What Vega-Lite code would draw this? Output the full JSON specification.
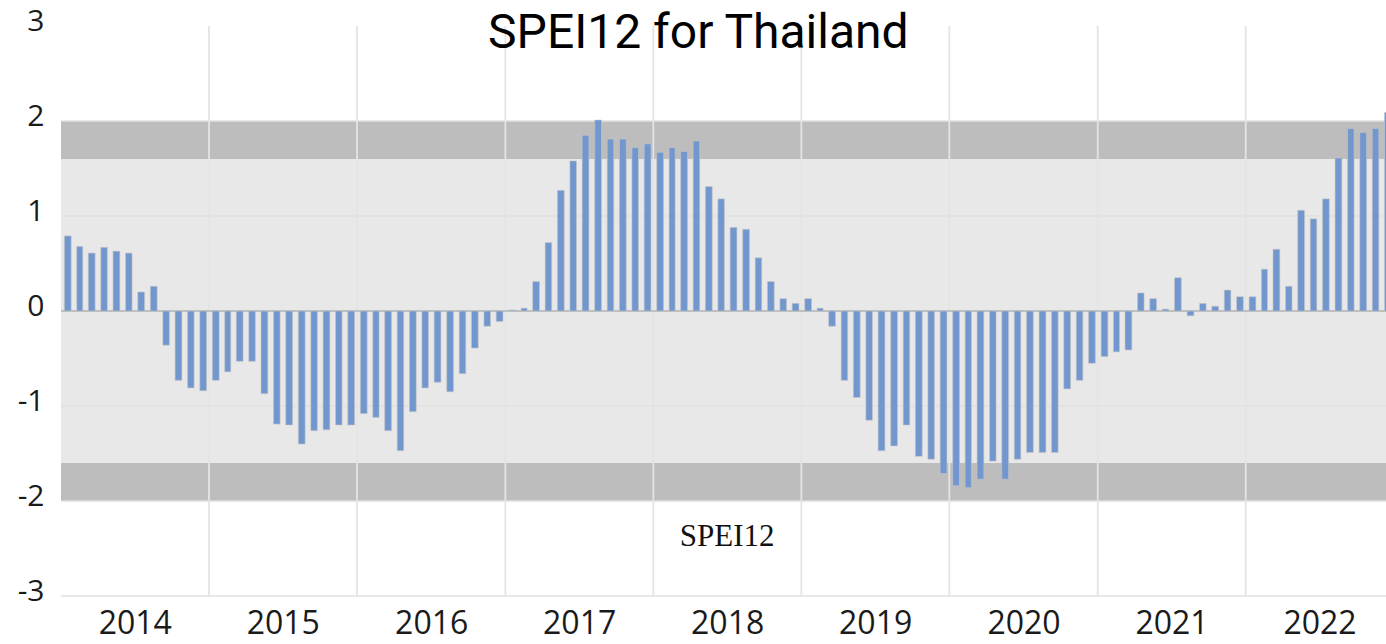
{
  "$schema": "https://vega.github.io/schema/vega-lite/v6.json",
  "width": 1325,
  "height": 570,
  "autosize": {"type": "none"},
  "padding": {"left": 61, "top": 26, "right": 0, "bottom": 48},
  "background": "white",
  "config": {
    "view": {"stroke": null},
    "axis": {"grid": false, "domain": false, "ticks": false}
  },
  "datasets": {
    "bands": [
      {"lo": -2, "hi": -1.6, "kind": "extreme"},
      {"lo": -1.6, "hi": 1.6, "kind": "normal"},
      {"lo": 1.6, "hi": 2, "kind": "extreme"}
    ],
    "hgrid": [{"v": -3}, {"v": -2}, {"v": -1}, {"v": 1}, {"v": 2}],
    "years": [
      {"d": "2015-01-01"}, {"d": "2016-01-01"}, {"d": "2017-01-01"}, {"d": "2018-01-01"},
      {"d": "2019-01-01"}, {"d": "2020-01-01"}, {"d": "2021-01-01"}, {"d": "2022-01-01"}
    ],
    "legend": [{"d": "2018-07-02", "v": -2.47, "label": "SPEI12"}],
    "titles": [{"d": "2018-04-22", "v": 2.77, "label": "SPEI12 for Thailand"}],
    "spei": [
      {"month": "2014-01-01", "spei": 0.79}, {"month": "2014-02-01", "spei": 0.68}, {"month": "2014-03-01", "spei": 0.61},
      {"month": "2014-04-01", "spei": 0.67}, {"month": "2014-05-01", "spei": 0.63}, {"month": "2014-06-01", "spei": 0.61},
      {"month": "2014-07-01", "spei": 0.20}, {"month": "2014-08-01", "spei": 0.26}, {"month": "2014-09-01", "spei": -0.36},
      {"month": "2014-10-01", "spei": -0.73}, {"month": "2014-11-01", "spei": -0.81}, {"month": "2014-12-01", "spei": -0.84},
      {"month": "2015-01-01", "spei": -0.73}, {"month": "2015-02-01", "spei": -0.64}, {"month": "2015-03-01", "spei": -0.53},
      {"month": "2015-04-01", "spei": -0.53}, {"month": "2015-05-01", "spei": -0.87}, {"month": "2015-06-01", "spei": -1.19},
      {"month": "2015-07-01", "spei": -1.20}, {"month": "2015-08-01", "spei": -1.40}, {"month": "2015-09-01", "spei": -1.26},
      {"month": "2015-10-01", "spei": -1.25}, {"month": "2015-11-01", "spei": -1.20}, {"month": "2015-12-01", "spei": -1.20},
      {"month": "2016-01-01", "spei": -1.08}, {"month": "2016-02-01", "spei": -1.12}, {"month": "2016-03-01", "spei": -1.26},
      {"month": "2016-04-01", "spei": -1.47}, {"month": "2016-05-01", "spei": -1.06}, {"month": "2016-06-01", "spei": -0.81},
      {"month": "2016-07-01", "spei": -0.75}, {"month": "2016-08-01", "spei": -0.85}, {"month": "2016-09-01", "spei": -0.66},
      {"month": "2016-10-01", "spei": -0.39}, {"month": "2016-11-01", "spei": -0.16}, {"month": "2016-12-01", "spei": -0.11},
      {"month": "2017-01-01", "spei": 0.01}, {"month": "2017-02-01", "spei": 0.03}, {"month": "2017-03-01", "spei": 0.31},
      {"month": "2017-04-01", "spei": 0.72}, {"month": "2017-05-01", "spei": 1.27}, {"month": "2017-06-01", "spei": 1.58},
      {"month": "2017-07-01", "spei": 1.85}, {"month": "2017-08-01", "spei": 2.01}, {"month": "2017-09-01", "spei": 1.81},
      {"month": "2017-10-01", "spei": 1.81}, {"month": "2017-11-01", "spei": 1.72}, {"month": "2017-12-01", "spei": 1.76},
      {"month": "2018-01-01", "spei": 1.67}, {"month": "2018-02-01", "spei": 1.72}, {"month": "2018-03-01", "spei": 1.68},
      {"month": "2018-04-01", "spei": 1.79}, {"month": "2018-05-01", "spei": 1.31}, {"month": "2018-06-01", "spei": 1.18},
      {"month": "2018-07-01", "spei": 0.88}, {"month": "2018-08-01", "spei": 0.86}, {"month": "2018-09-01", "spei": 0.56},
      {"month": "2018-10-01", "spei": 0.31}, {"month": "2018-11-01", "spei": 0.13}, {"month": "2018-12-01", "spei": 0.08},
      {"month": "2019-01-01", "spei": 0.13}, {"month": "2019-02-01", "spei": 0.03}, {"month": "2019-03-01", "spei": -0.16},
      {"month": "2019-04-01", "spei": -0.73}, {"month": "2019-05-01", "spei": -0.91}, {"month": "2019-06-01", "spei": -1.15},
      {"month": "2019-07-01", "spei": -1.47}, {"month": "2019-08-01", "spei": -1.42}, {"month": "2019-09-01", "spei": -1.20},
      {"month": "2019-10-01", "spei": -1.53}, {"month": "2019-11-01", "spei": -1.56}, {"month": "2019-12-01", "spei": -1.71},
      {"month": "2020-01-01", "spei": -1.84}, {"month": "2020-02-01", "spei": -1.86}, {"month": "2020-03-01", "spei": -1.77},
      {"month": "2020-04-01", "spei": -1.58}, {"month": "2020-05-01", "spei": -1.77}, {"month": "2020-06-01", "spei": -1.56},
      {"month": "2020-07-01", "spei": -1.49}, {"month": "2020-08-01", "spei": -1.49}, {"month": "2020-09-01", "spei": -1.49},
      {"month": "2020-10-01", "spei": -0.82}, {"month": "2020-11-01", "spei": -0.73}, {"month": "2020-12-01", "spei": -0.55},
      {"month": "2021-01-01", "spei": -0.48}, {"month": "2021-02-01", "spei": -0.43}, {"month": "2021-03-01", "spei": -0.41},
      {"month": "2021-04-01", "spei": 0.19}, {"month": "2021-05-01", "spei": 0.13}, {"month": "2021-06-01", "spei": 0.02},
      {"month": "2021-07-01", "spei": 0.35}, {"month": "2021-08-01", "spei": -0.05}, {"month": "2021-09-01", "spei": 0.08},
      {"month": "2021-10-01", "spei": 0.05}, {"month": "2021-11-01", "spei": 0.22}, {"month": "2021-12-01", "spei": 0.15},
      {"month": "2022-01-01", "spei": 0.15}, {"month": "2022-02-01", "spei": 0.44}, {"month": "2022-03-01", "spei": 0.65},
      {"month": "2022-04-01", "spei": 0.26}, {"month": "2022-05-01", "spei": 1.06}, {"month": "2022-06-01", "spei": 0.97},
      {"month": "2022-07-01", "spei": 1.18}, {"month": "2022-08-01", "spei": 1.61}, {"month": "2022-09-01", "spei": 1.92},
      {"month": "2022-10-01", "spei": 1.88}, {"month": "2022-11-01", "spei": 1.92}, {"month": "2022-12-01", "spei": 2.09}
    ]
  },
  "layer": [
    {
      "data": {"name": "bands"},
      "mark": {"type": "rect"},
      "encoding": {
        "y": {
          "field": "lo", "type": "quantitative", "title": null,
          "scale": {"domain": [-3, 3], "nice": false, "zero": false},
          "axis": {
            "values": [-3, -2, -1, 0, 1, 2, 3],
            "labelExpr": "'' + datum.value",
            "labelFont": "Open Sans", "labelFontSize": 30, "labelColor": "#1a1a1a",
            "labelPadding": 17, "labelOffset": -5, "title": null
          }
        },
        "y2": {"field": "hi"},
        "color": {
          "field": "kind", "type": "nominal", "legend": null,
          "scale": {"domain": ["extreme", "normal"], "range": ["#bdbdbd", "#e8e8e8"]}
        }
      }
    },
    {
      "data": {"name": "hgrid"},
      "mark": {"type": "rule", "stroke": "#e1e1e1", "strokeWidth": 1.5},
      "encoding": {"y": {"field": "v", "type": "quantitative", "title": null}}
    },
    {
      "data": {"name": "years"},
      "mark": {"type": "rule", "stroke": "#e4e4e4", "strokeWidth": 1.8},
      "encoding": {"x": {"field": "d", "type": "temporal", "title": null}}
    },
    {
      "data": {"name": "years"},
      "mark": {"type": "rule", "stroke": "#bfbfbf", "strokeWidth": 1.5},
      "encoding": {"y": {"datum": 0, "type": "quantitative", "title": null}}
    },
    {
      "data": {"name": "spei"},
      "mark": {"type": "bar", "width": {"band": 0.62}, "fill": "#7297cf", "stroke": "#c4c4c4", "strokeWidth": 0.6, "clip": true},
      "encoding": {
        "x": {
          "field": "month", "timeUnit": "utcyearmonth", "type": "temporal", "title": null,
          "scale": {
            "type": "utc", "nice": false,
            "domain": [
              {"year": 2014, "month": 1, "date": 1, "utc": true},
              {"year": 2022, "month": 12, "date": 13, "utc": true}
            ]
          },
          "axis": {
            "values": [
              {"year": 2014, "month": 7, "date": 2, "utc": true},
              {"year": 2015, "month": 7, "date": 2, "utc": true},
              {"year": 2016, "month": 7, "date": 2, "utc": true},
              {"year": 2017, "month": 7, "date": 2, "utc": true},
              {"year": 2018, "month": 7, "date": 2, "utc": true},
              {"year": 2019, "month": 7, "date": 2, "utc": true},
              {"year": 2020, "month": 7, "date": 2, "utc": true},
              {"year": 2021, "month": 7, "date": 2, "utc": true},
              {"year": 2022, "month": 7, "date": 2, "utc": true}
            ],
            "labelExpr": "utcFormat(datum.value, '%Y')",
            "labelFont": "Open Sans", "labelFontSize": 32, "labelColor": "#1a1a1a",
            "labelPadding": 12, "labelAngle": 0, "labelAlign": "center", "labelBaseline": "top",
            "labelOverlap": false, "labelBound": false, "labelFlush": false, "title": null
          }
        },
        "y": {"field": "spei", "type": "quantitative", "title": null}
      }
    },
    {
      "data": {"name": "legend"},
      "mark": {"type": "text", "font": "Liberation Serif", "fontSize": 31, "align": "center", "baseline": "alphabetic", "color": "#111111"},
      "encoding": {
        "x": {"field": "d", "type": "temporal", "title": null},
        "y": {"field": "v", "type": "quantitative", "title": null},
        "text": {"field": "label"}
      }
    },
    {
      "data": {"name": "titles"},
      "mark": {"type": "text", "font": "Roboto", "fontSize": 48, "fontWeight": 400, "align": "center", "baseline": "alphabetic", "color": "#000000"},
      "encoding": {
        "x": {"field": "d", "type": "temporal", "title": null},
        "y": {"field": "v", "type": "quantitative", "title": null},
        "text": {"field": "label"}
      }
    }
  ]
}
